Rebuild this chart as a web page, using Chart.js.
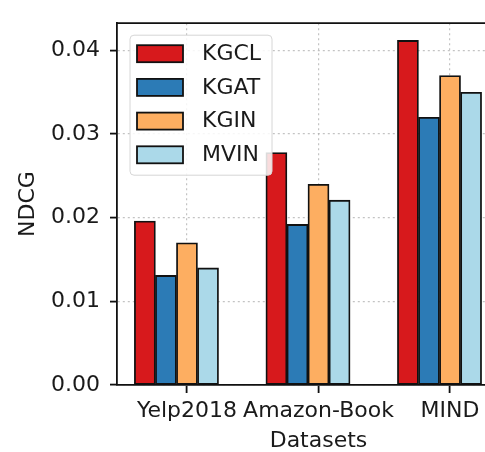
<!DOCTYPE html>
<html>
<head>
<meta charset="utf-8">
<script src="https://cdn.jsdelivr.net/npm/chart.js@4.4.1/dist/chart.umd.min.js"></script>
<style>
  html, body { margin: 0; padding: 0; overflow: hidden; background: #fff; }
  canvas { display: block; }
</style>
</head>
<body>
<canvas id="ndcgChart" width="530" height="452" style="width:530px;height:452px"></canvas>
<script>
// values
const categories = ['Yelp2018', 'Amazon-Book', 'MIND'];
const methods = ['KGCL', 'KGAT', 'KGIN', 'MVIN'];
const kgcl = [0.0196, 0.0278, 0.0412];
const kgat = [0.0131, 0.0192, 0.0320];
const kgin = [0.0170, 0.0240, 0.0370];
const mvin = [0.0140, 0.0221, 0.0350];
const yTicks = [0.00, 0.01, 0.02, 0.03, 0.04];

const colors = ['#d7191c', '#2c7bb6', '#fdae61', '#abd9e9'];
const barWidth = 0.16;
const series = [kgcl, kgat, kgin, mvin];

// ticks sit on the third bar of each group, like the original plot
const datasets = series.map((vals, k) => ({
  label: methods[k],
  data: vals.map((v, i) => ({ x: i + (k - 2) * barWidth, y: v })),
  backgroundColor: colors[k],
  borderColor: '#111',
  borderWidth: 1.8,
  borderSkipped: false,
  grouped: false,
  categoryPercentage: 1,
  barPercentage: 1
}));

const font = { family: 'DejaVu Sans', size: 22 };

const framePlugin = {
  id: 'frame',
  afterDatasetsDraw(chart) {
    const { ctx, chartArea: a } = chart;
    ctx.save();
    ctx.strokeStyle = '#111';
    ctx.lineWidth = 1.8;
    ctx.beginPath();
    ctx.moveTo(a.left, a.top);
    ctx.lineTo(a.right, a.top);
    ctx.lineTo(a.right, a.bottom);
    ctx.stroke();
    ctx.restore();
  }
};

const legendPlugin = {
  id: 'boxLegend',
  afterDatasetsDraw(chart) {
    const { ctx, chartArea: a } = chart;
    const x = a.left + 13, y = a.top + 12, w = 142, h = 140;
    ctx.save();
    ctx.fillStyle = 'rgba(255,255,255,0.85)';
    ctx.strokeStyle = '#d6d6d6';
    ctx.lineWidth = 1;
    ctx.beginPath();
    ctx.roundRect(x, y, w, h, 4);
    ctx.fill();
    ctx.stroke();
    ctx.font = '22px "DejaVu Sans"';
    ctx.textBaseline = 'middle';
    chart.data.datasets.forEach((ds, k) => {
      const cy = y + 18 + k * 33.7;
      ctx.fillStyle = ds.backgroundColor;
      ctx.fillRect(x + 7, cy - 8, 46, 17);
      ctx.strokeStyle = '#111';
      ctx.lineWidth = 1.8;
      ctx.strokeRect(x + 7, cy - 8, 46, 17);
      ctx.fillStyle = '#1a1a1a';
      ctx.fillText(ds.label, x + 72, cy + 1);
    });
    ctx.restore();
  }
};

new Chart(document.getElementById('ndcgChart'), {
  type: 'bar',
  data: { datasets },
  options: {
    responsive: false,
    animation: false,
    layout: { padding: { left: 10, top: 13, right: 10, bottom: 0 } },
    plugins: {
      legend: { display: false },
      tooltip: { enabled: false }
    },
    scales: {
      x: {
        type: 'linear',
        offset: false,
        min: -0.532,
        max: 2.532,
        afterBuildTicks: s => { s.ticks = categories.map((c, i) => ({ value: i })); },
        afterFit: s => { s.height = 67; },
        ticks: {
          callback: v => categories[v],
          font: font,
          color: '#1a1a1a',
          padding: 5,
          maxRotation: 0,
          autoSkip: false
        },
        grid: {
          offset: false,
          color: 'rgba(170,170,170,0.7)',
          lineWidth: 1.2,
          tickColor: '#111',
          tickLength: 8,
          tickWidth: 1.8,
          tickBorderDash: []
        },
        border: { display: true, color: '#111', width: 1.8, dash: [2, 3] },
        title: {
          display: true,
          text: 'Datasets',
          font: { family: 'DejaVu Sans', size: 22, lineHeight: 1 },
          color: '#1a1a1a',
          padding: { top: 0, bottom: 0 }
        }
      },
      y: {
        min: 0,
        max: 0.04326,
        afterBuildTicks: s => { s.ticks = yTicks.map(v => ({ value: v })); },
        afterFit: s => { s.width = 107; },
        ticks: {
          callback: v => v.toFixed(2),
          font: font,
          color: '#1a1a1a',
          padding: 10
        },
        grid: {
          color: 'rgba(170,170,170,0.7)',
          lineWidth: 1.2,
          tickColor: '#111',
          tickLength: 7,
          tickWidth: 1.8,
          tickBorderDash: []
        },
        border: { display: true, color: '#111', width: 1.8, dash: [2, 3] },
        title: {
          display: true,
          text: 'NDCG',
          font: font,
          color: '#1a1a1a',
          padding: { top: 5, bottom: 0 }
        }
      }
    }
  },
  plugins: [framePlugin, legendPlugin]
});
</script>
</body>
</html>
